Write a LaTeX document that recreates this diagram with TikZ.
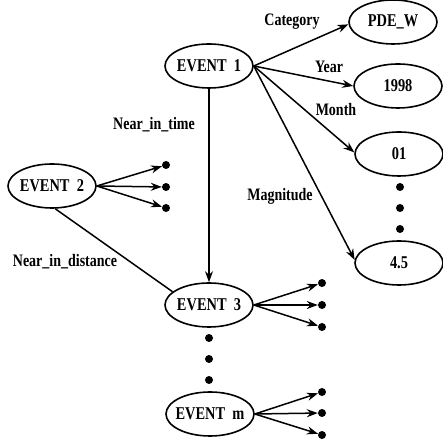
\documentclass[tikz,border=0pt]{standalone}
\usepackage{fontspec}
\setmainfont{Liberation Serif}
\usetikzlibrary{shapes.geometric,arrows.meta}
\begin{document}
\begin{tikzpicture}[x=1pt,y=1pt,
  ev/.style={ellipse,draw,line width=1.6pt,minimum width=88pt,minimum height=44pt,inner sep=0pt},
  txt/.style={font=\bfseries\fontsize{18}{18}\selectfont,inner sep=0pt,xscale=0.8,transform shape},
  lbl/.style={font=\bfseries\fontsize{17.5}{17.5}\selectfont,inner sep=0pt,xscale=0.8,transform shape},
  blob/.style={circle,fill=black,inner sep=0pt,minimum size=8pt},
  con/.style={line width=1.5pt},
  arr/.style={con,-{Stealth[length=11pt,width=8pt]}}]
\useasboundingbox (0,0) rectangle (443,443);
% ellipses
\node[ev,label={[txt]center:EVENT\ \ 1}] (e1) at (209,377) {};
\node[ev,label={[txt]center:PDE\_W}] (pde) at (393,421) {};
\node[ev,label={[txt]center:1998}] (y98) at (398,357) {};
\node[ev,label={[txt]center:01}] (m01) at (399,289) {};
\node[ev,label={[txt]center:4.5}] (mag) at (399,180) {};
\node[ev,label={[txt]center:EVENT\ \ 2}] (e2) at (52,257) {};
\node[ev,label={[txt]center:EVENT\ \ 3}] (e3) at (209,138) {};
\node[ev,label={[txt]center:EVENT\ \ m}] (em) at (210,29) {};
% dots
\node[blob] (d21) at (166,278) {};
\node[blob] (d22) at (166,256) {};
\node[blob] (d23) at (166,235) {};
\node[blob] (d31) at (322,160) {};
\node[blob] (d32) at (322,138) {};
\node[blob] (d33) at (322,116) {};
\node[blob] (dm1) at (322,51) {};
\node[blob] (dm2) at (322,30) {};
\node[blob] (dm3) at (322,8) {};
\node[blob] (v1) at (400,256) {};
\node[blob] (v2) at (400,235) {};
\node[blob] (v3) at (400,214) {};
\node[blob] (w1) at (209,105) {};
\node[blob] (w2) at (209,84) {};
\node[blob] (w3) at (209,63) {};
% labels
\node[lbl] (lcat) at (292,421) {Category};
\node[lbl] (lyear) at (329,376) {Year};
\node[lbl] (lmonth) at (336,333) {Month};
\node[lbl] (ltime) at (154,318) {Near\_in\_time};
\node[lbl] (lmag) at (280,247) {Magnitude};
\node[lbl] (ldist) at (65,181) {Near\_in\_distance};
% connectors
\draw[arr] (e1.east) -- (pde.183);
\draw[arr] (e1.east) -- (y98.west);
\draw[arr] (e1.east) -- (m01.178);
\draw[arr] (e1.east) -- (mag.176);
\draw[arr] (e1.south) -- (e3.north);
\draw[con] (e2.-82) -- (e3.160);
\foreach \d in {d21,d22,d23} \draw[arr] (e2.east) -- (\d);
\foreach \d in {d31,d32,d33} \draw[arr] (e3.east) -- (\d);
\foreach \d in {dm1,dm2,dm3} \draw[arr] (em.east) -- (\d);
\end{tikzpicture}
\end{document}
